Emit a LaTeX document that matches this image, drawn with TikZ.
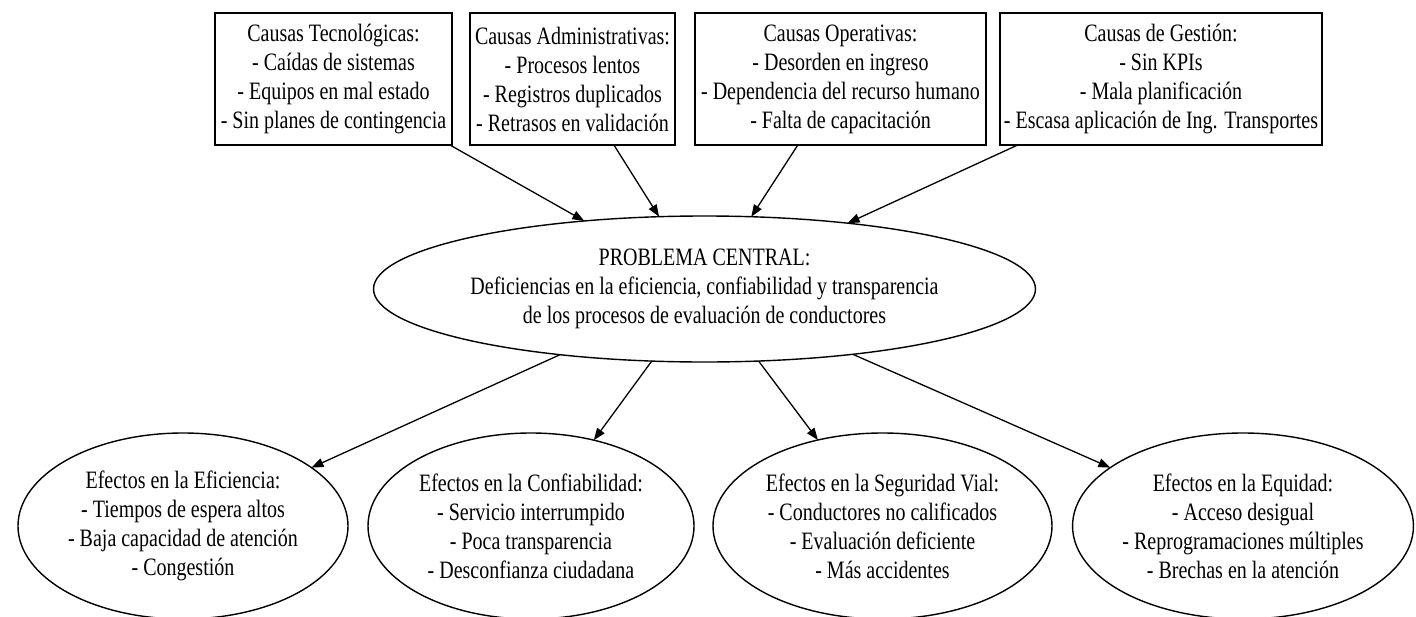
\documentclass[tikz,border=0pt]{standalone}
\usepackage{fontspec}
\setmainfont{Liberation Serif}[FakeStretch=0.80]
\usetikzlibrary{shapes.geometric,arrows.meta}
\begin{document}
\begin{tikzpicture}[x=1pt,y=-1pt,
  every node/.style={font=\fontsize{25}{29}\selectfont, align=center, inner sep=0pt, outer sep=0pt, line width=1.4pt},
  causa/.style={draw, rectangle, minimum height=132pt},
  efecto/.style={draw, ellipse, minimum height=186pt},
  flecha/.style={line width=1.3pt, -{Triangle[length=12pt,width=9pt]}}
]
\useasboundingbox (0,0) rectangle (1416,616);
\node[causa, minimum width=237pt] (b1) at (333.5,79) {Causas Tecnológicas:\\- Caídas de sistemas\\- Equipos en mal estado\\- Sin planes de contingencia};
\node[causa, minimum width=205pt] (b2) at (572.5,79) {Causas Administrativas:\\- Procesos lentos\\- Registros duplicados\\- Retrasos en validación};
\node[causa, minimum width=291pt] (b3) at (840.5,79) {Causas Operativas:\\- Desorden en ingreso\\- Dependencia del recurso humano\\- Falta de capacitación};
\node[causa, minimum width=322pt] (b4) at (1161,79) {Causas de Gestión:\\- Sin KPIs\\- Mala planificación\\- Escasa aplicación de Ing. Transportes};
\node[draw, ellipse, minimum width=655pt, minimum height=146pt] (pc) at (704.5,289) {PROBLEMA CENTRAL:\\Deficiencias en la eficiencia, confiabilidad y transparencia\\de los procesos de evaluación de conductores};
\node[efecto, minimum width=330pt] (e1) at (183,526) {Efectos en la Eficiencia:\\- Tiempos de espera altos\\- Baja capacidad de atención\\- Congestión};
\node[efecto, minimum width=326pt] (e2) at (531,526) {Efectos en la Confiabilidad:\\- Servicio interrumpido\\- Poca transparencia\\- Desconfianza ciudadana};
\node[efecto, minimum width=339pt] (e3) at (882.5,526) {Efectos en la Seguridad Vial:\\- Conductores no calificados\\- Evaluación deficiente\\- Más accidentes};
\node[efecto, minimum width=340pt] (e4) at (1243,526) {Efectos en la Equidad:\\- Acceso desigual\\- Reprogramaciones múltiples\\- Brechas en la atención};
\foreach \b in {b1,b2,b3,b4} \draw[flecha] (\b) -- (pc);
\foreach \e in {e1,e2,e3,e4} \draw[flecha] (pc) -- (\e);
\end{tikzpicture}
\end{document}
